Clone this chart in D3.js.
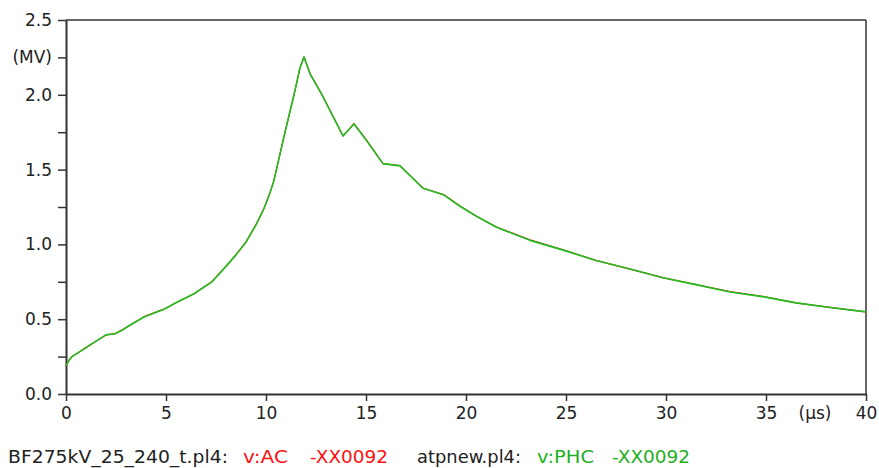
<!DOCTYPE html>
<html>
<head>
<meta charset="utf-8">
<script src="https://cdn.jsdelivr.net/npm/d3@7/dist/d3.min.js"></script>
<style>
  html, body { margin: 0; padding: 0; background: #fff; }
  svg { display: block; font-family: "DejaVu Sans", Verdana, sans-serif; }
</style>
</head>
<body>
<svg id="chart" width="879" height="468"></svg>
<script>
// ---- data ----
const timeUs = [0, 0.15, 0.3, 0.6, 1.0, 1.4, 2.0, 2.45, 2.85, 3.3, 3.9, 4.9, 5.5, 6.4, 7.3, 8.0, 8.5, 9.0, 9.5, 9.9, 10.2, 10.37, 10.53, 10.95, 11.4, 11.7, 11.9, 12.2, 12.8, 13.85, 14.4, 15.0, 15.85, 16.7, 17.85, 18.9, 19.7, 20.5, 21.5, 23.2, 24.9, 26.5, 28.2, 29.9, 31.5, 33.2, 34.9, 36.5, 38.2, 40];
const phcValues = [0.19, 0.225, 0.25, 0.275, 0.31, 0.345, 0.395, 0.403, 0.43, 0.468, 0.515, 0.567, 0.61, 0.67, 0.75, 0.853, 0.93, 1.015, 1.13, 1.24, 1.345, 1.415, 1.505, 1.75, 2.0, 2.18, 2.253, 2.14, 2.0, 1.725, 1.805, 1.70, 1.54, 1.525, 1.375, 1.33, 1.255, 1.19, 1.116, 1.027, 0.96, 0.893, 0.835, 0.776, 0.731, 0.682, 0.649, 0.609, 0.578, 0.549];
const acValues  = [0.19, 0.225, 0.25, 0.275, 0.31, 0.345, 0.395, 0.403, 0.432, 0.468, 0.517, 0.567, 0.61, 0.67, 0.752, 0.855, 0.932, 1.017, 1.132, 1.24, 1.347, 1.415, 1.505, 1.75, 2.0, 2.18, 2.253, 2.142, 2.002, 1.725, 1.807, 1.702, 1.54, 1.527, 1.377, 1.332, 1.257, 1.19, 1.118, 1.03, 0.962, 0.893, 0.835, 0.776, 0.731, 0.685, 0.651, 0.609, 0.579, 0.549];

const xTicks = [0, 5, 10, 15, 20, 25, 30, 35, 40];
const yTicks = [0, 0.25, 0.5, 0.75, 1.0, 1.25, 1.5, 1.75, 2.0, 2.25, 2.5];
const yLabeled = [0, 0.5, 1.0, 1.5, 2.0, 2.5];
const yUnitLabel = "(MV)";
const yUnitTick = 2.25;
const xUnitLabel = "(µs)";
const xUnitValue = 37.45;

const legendParts = [
  { text: "BF275kV_25_240_t.pl4:", color: "#222222", x: 8, w: 220 },
  { text: "v:AC", color: "#ff1010", x: 243, w: 45 },
  { text: "-XX0092", color: "#ff1010", x: 310, w: 78 },
  { text: "atpnew.pl4:", color: "#222222", x: 417, w: 104 },
  { text: "v:PHC", color: "#22b022", x: 537, w: 57 },
  { text: "-XX0092", color: "#22b022", x: 612, w: 78 }
];

// ---- layout ----
const mLeft = 66, mRight = 866, mTop = 20, mBottom = 394;
const svg = d3.select("#chart");
const x = d3.scaleLinear().domain([0, 40]).range([mLeft, mRight]);
const y = d3.scaleLinear().domain([0, 2.5]).range([mBottom, mTop]);
const axisColor = "#333333";
const textColor = "#222222";
const fontSize = 17;

// frame (top & right)
svg.append("line").attr("x1", mLeft).attr("x2", mRight).attr("y1", mTop).attr("y2", mTop)
  .attr("stroke", axisColor).attr("stroke-width", 1.5);
svg.append("line").attr("x1", mRight).attr("x2", mRight).attr("y1", mTop).attr("y2", mBottom)
  .attr("stroke", axisColor).attr("stroke-width", 1.5);

// y axis
const yAxis = d3.axisLeft(y).tickValues(yTicks).tickSizeInner(8).tickSizeOuter(0).tickPadding(6)
  .tickFormat(d => yLabeled.some(v => Math.abs(v - d) < 1e-9) ? d3.format(".1f")(d)
                 : (Math.abs(d - yUnitTick) < 1e-9 ? yUnitLabel : ""));
const gy = svg.append("g").attr("transform", `translate(${mLeft},0)`).call(yAxis);
gy.select(".domain").attr("stroke", axisColor).attr("stroke-width", 2);
gy.selectAll(".tick line").attr("stroke", axisColor).attr("stroke-width", 1.5);
gy.selectAll(".tick text").attr("fill", textColor).style("font-size", fontSize + "px")
  .style("font-family", '"DejaVu Sans", Verdana, sans-serif');

// x axis
const xAxis = d3.axisBottom(x).tickValues(xTicks).tickSizeInner(7).tickSizeOuter(0).tickPadding(6)
  .tickFormat(d3.format("d"));
const gx = svg.append("g").attr("transform", `translate(0,${mBottom})`).call(xAxis);
gx.select(".domain").attr("stroke", axisColor).attr("stroke-width", 2);
gx.selectAll(".tick line").attr("stroke", axisColor).attr("stroke-width", 1.5);
gx.selectAll(".tick text").attr("fill", textColor).style("font-size", fontSize + "px")
  .style("font-family", '"DejaVu Sans", Verdana, sans-serif');

// x unit label
svg.append("text").attr("x", x(xUnitValue)).attr("y", mBottom + 13).attr("dy", "0.71em")
  .attr("text-anchor", "middle").attr("fill", textColor).style("font-size", fontSize + "px")
  .text(xUnitLabel);

// curves
const line = d3.line().x((d, i) => x(timeUs[i])).y(d => y(d));
svg.append("path").datum(acValues).attr("d", line).attr("fill", "none")
  .attr("stroke", "#ff0000").attr("stroke-width", 1.2).attr("stroke-linejoin", "round");
svg.append("path").datum(phcValues).attr("d", line).attr("fill", "none")
  .attr("stroke", "#1fbf1f").attr("stroke-width", 1.6).attr("stroke-linejoin", "round");

// legend
svg.append("g").selectAll("text").data(legendParts).join("text")
  .attr("x", d => d.x).attr("y", 463).attr("fill", d => d.color)
  .attr("textLength", d => d.w).attr("lengthAdjust", "spacingAndGlyphs")
  .style("font-size", "18px").text(d => d.text);
</script>
</body>
</html>
